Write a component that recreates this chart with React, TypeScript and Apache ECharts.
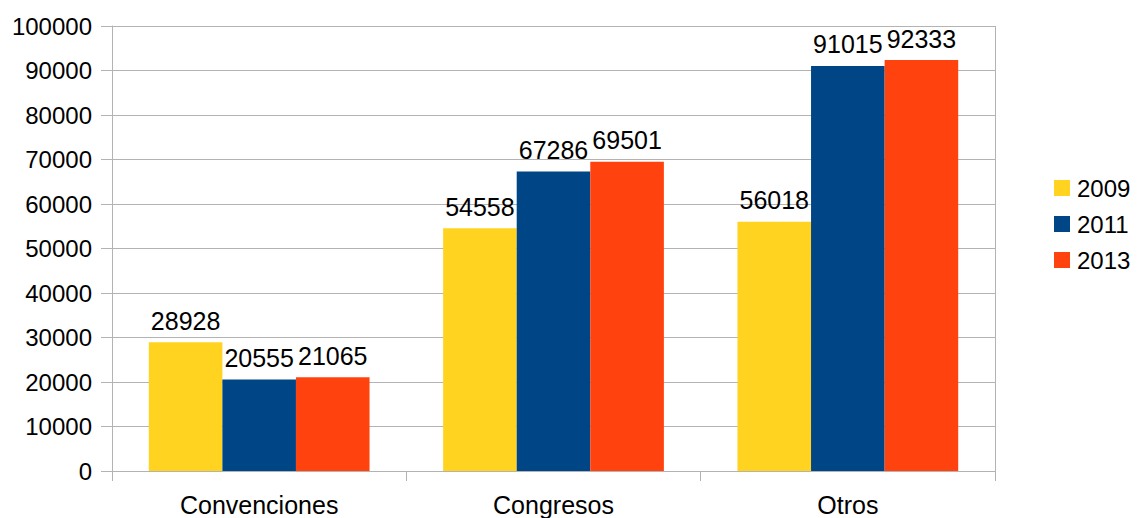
import React, { useEffect, useRef } from "react";
import * as echarts from "echarts";

const categories = ["Convenciones", "Congresos", "Otros"];
const seriesNames = ["2009", "2011", "2013"];
const values2009 = [28928, 54558, 56018];
const values2011 = [20555, 67286, 91015];
const values2013 = [21065, 69501, 92333];
const colors = ["#ffd320", "#004586", "#ff420e"];

const FONT = "'Liberation Sans', Arial, sans-serif";

export default function App() {
  const ref = useRef<HTMLDivElement>(null);

  useEffect(() => {
    if (!ref.current) return;
    const chart = echarts.init(ref.current, null, { renderer: "svg" });
    const data = [values2009, values2011, values2013];
    chart.setOption({
      animation: false,
      backgroundColor: "#ffffff",
      textStyle: { fontFamily: FONT },
      grid: { left: 112, right: 143, top: 26, bottom: 47 },
      legend: {
        orient: "vertical",
        left: 1049,
        top: 171,
        itemWidth: 16,
        itemHeight: 16,
        itemGap: 12,
        icon: "rect",
        data: seriesNames,
        textStyle: { fontSize: 24, color: "#000", fontFamily: FONT, lineHeight: 24, padding: [0, 0, 0, 2] },
      },
      xAxis: {
        type: "category",
        data: categories,
        axisLine: { lineStyle: { color: "#b3b3b3", width: 1 } },
        axisTick: { show: true, length: 10, lineStyle: { color: "#b3b3b3" } },
        axisLabel: { fontSize: 25, color: "#000", margin: 21, fontFamily: FONT },
      },
      yAxis: {
        type: "value",
        min: 0,
        max: 100000,
        interval: 10000,
        axisLine: { show: true, lineStyle: { color: "#b3b3b3", width: 1 } },
        axisTick: { show: true, length: 11, lineStyle: { color: "#b3b3b3" } },
        axisLabel: {
          fontSize: 24,
          color: "#000",
          margin: 20,
          fontFamily: FONT,
          formatter: (v: number) => String(v),
        },
        splitLine: { show: true, lineStyle: { color: "#b3b3b3", width: 1 } },
      },
      graphic: [
        {
          type: "line",
          shape: { x1: 995.5, y1: 26, x2: 995.5, y2: 481 },
          style: { stroke: "#b3b3b3", lineWidth: 1 },
          silent: true,
        },
      ],
      series: seriesNames.map((name, i) => ({
        name,
        type: "bar",
        data: data[i],
        barGap: "0%",
        barCategoryGap: "25%",
        itemStyle: { color: colors[i] },
        label: {
          show: true,
          position: "top",
          distance: 9,
          fontSize: 25,
          color: "#000",
          fontFamily: FONT,
        },
      })),
    });
    return () => chart.dispose();
  }, []);

  return (
    <div
      ref={ref}
      style={{ position: "fixed", left: 0, top: 0, width: 1138, height: 518 }}
    />
  );
}
